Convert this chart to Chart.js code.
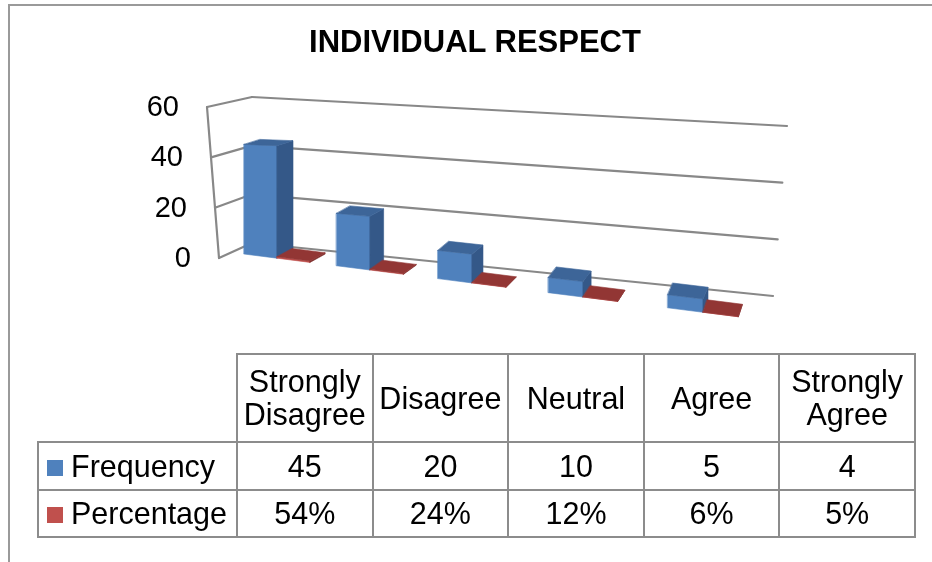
<!DOCTYPE html>
<html>
<head>
<meta charset="utf-8">
<script src="https://cdn.jsdelivr.net/npm/chart.js@4.4.1/dist/chart.umd.min.js"></script>
<style>
  html, body { margin: 0; padding: 0; background: #fff; }
  body { width: 932px; height: 562px; position: relative; overflow: hidden;
         font-family: "Liberation Sans", Arial, sans-serif; color: #000; }
  #frame { position: absolute; left: 8px; top: 4px; width: 1000px; height: 700px;
           border-top: 2px solid #9a9a9a; border-left: 2px solid #9a9a9a; }
  #title { position: absolute; left: 0; top: 23px; width: 950px; text-align: center;
           font-weight: bold; font-size: 31px; line-height: 37px; }
  canvas { position: absolute; left: 0; top: 0; }
  #tbl { position: absolute; left: 37px; top: 353px; border-collapse: collapse;
         table-layout: fixed; font-size: 30.5px; }
  #tbl td { border: 2px solid #8c8c8c; padding: 0; text-align: center; line-height: 33px; }
  #tbl td.blank { border-top: none; border-left: none; }
  #tbl td.key { text-align: left; padding-left: 8px; white-space: nowrap; }
  .swatch { display: inline-block; width: 16px; height: 16px; margin-right: 8px;
            vertical-align: 1px; }
</style>
</head>
<body>
<div id="frame"></div>
<canvas id="c" width="932" height="562"></canvas>
<div id="title">INDIVIDUAL RESPECT</div>
<table id="tbl"></table>
<script>
// Survey responses for "individual respect"
const categories = ['Strongly Disagree', 'Disagree', 'Neutral', 'Agree', 'Strongly Agree'];
const frequency = [45, 20, 10, 5, 4];
const percentage = [0.54, 0.24, 0.12, 0.06, 0.05];
const seriesNames = ['Frequency', 'Percentage'];
const axisMax = 60;
const axisStep = 20;

const seriesColors = [
  { front: '#4F81BD', top: '#3D6598', side: '#345888' },
  { front: '#C0504D', top: '#923634', side: '#7E2E2C' }
];

// Perspective view of the plot: floor / walls and boxes are projected from
// the library's own scale pixels.
const view = {
  // horizontal placement of category centres (t = 0..1 across the category scale)
  xmap: t => 233.9 + 420 * t + 112.5 * t * t,
  widthGain: t => 1 + 0.0875 * (t - 0.1),
  // front plane of the boxes
  frontBase: x => 254 + 0.127 * (x - 244),
  frontUnit: x => 2.467 + 0.00195 * (x - 260),
  // depth vector of a box corner at screen x and height fraction f
  depth: (x, f) => [16 - (x - 260) * (11 / 425), -8 - (x - 260) * (4 / 425) + 4 * f],
  // walls, as a function of the value fraction f = 0..1
  sideFront: f => [219 - 12 * f, 258 - 151 * f],
  backLeft: f => [252, 243 - 146 * f],
  backRight: f => [773 + 14 * f, 296 - 170 * f]
};

const depthView = {
  id: 'depthView',
  beforeDatasetsDraw(chart) {
    const ctx = chart.ctx;
    const xs = chart.scales.x, ys = chart.scales.y, area = chart.chartArea;
    const pxPerUnit = (ys.bottom - ys.top) / (ys.max - ys.min);
    const frac = v => (ys.bottom - ys.getPixelForValue(v)) / (ys.bottom - ys.top);

    let ticks = ys.ticks && ys.ticks.length ? ys.ticks.map(tk => tk.value) : [];
    if (!ticks.length) for (let v = ys.min; v <= ys.max; v += axisStep) ticks.push(v);

    ctx.save();
    // walls and gridlines
    ctx.strokeStyle = '#888888';
    ctx.lineWidth = 2.2;
    ctx.lineCap = 'round';
    const line = (a, b) => { ctx.beginPath(); ctx.moveTo(a[0], a[1]); ctx.lineTo(b[0], b[1]); ctx.stroke(); };
    line(view.sideFront(0), view.sideFront(1));
    ticks.forEach(v => {
      const f = frac(v);
      line(view.sideFront(f), view.backLeft(f));
      line(view.backLeft(f), view.backRight(f));
    });

    // value labels along the side wall
    ctx.fillStyle = '#000';
    ctx.font = '29px "Liberation Sans", Arial, sans-serif';
    ctx.textAlign = 'right';
    ctx.textBaseline = 'middle';
    ticks.forEach(v => {
      const p = view.sideFront(frac(v));
      ctx.fillText(String(v), p[0] - 28, p[1] + 1);
    });

    // boxes, left to right, each cluster back series first
    const poly = (pts, color) => {
      ctx.beginPath();
      ctx.moveTo(pts[0][0], pts[0][1]);
      for (let k = 1; k < pts.length; k++) ctx.lineTo(pts[k][0], pts[k][1]);
      ctx.closePath();
      ctx.fillStyle = color; ctx.fill();
      ctx.strokeStyle = color; ctx.lineWidth = 0.6; ctx.stroke();
    };
    const nCat = chart.data.labels.length;
    for (let i = 0; i < nCat; i++) {
      chart.data.datasets.forEach((ds, di) => {
        const el = chart.getDatasetMeta(di).data[i];
        const col = seriesColors[di];
        const uc = xs.getPixelForValue(i);
        const t = (uc - area.left) / area.width;
        const kw = view.widthGain(t);
        const cx = view.xmap(t) + (el.x - uc) * kw;
        const hw = el.width / 2 * kw;
        const xl = cx - hw, xr = cx + hw;
        const hLib = el.base - el.y;
        const fTop = hLib / (ys.bottom - ys.top);
        const h = x => hLib * view.frontUnit(x) / pxPerUnit;
        const bl = [xl, view.frontBase(xl)], br = [xr, view.frontBase(xr)];
        const tl = [xl, bl[1] - h(xl)], tr = [xr, br[1] - h(xr)];
        const add = (p, f) => { const d = view.depth(cx, f); return [p[0] + d[0], p[1] + d[1]]; };
        poly([bl, br, tr, tl], col.front);
        poly([br, add(br, 0), add(tr, fTop), tr], col.side);
        poly([tl, tr, add(tr, fTop), add(tl, fTop)], col.top);
      });
    }
    ctx.restore();
    return false;
  }
};

new Chart(document.getElementById('c'), {
  type: 'bar',
  data: {
    labels: categories,
    datasets: [
      { label: seriesNames[0], data: frequency, backgroundColor: seriesColors[0].front },
      { label: seriesNames[1], data: percentage, backgroundColor: seriesColors[1].front }
    ]
  },
  options: {
    responsive: false,
    animation: false,
    devicePixelRatio: 1,
    layout: { padding: { left: 234, right: 166, top: 106, bottom: 308 } },
    datasets: { bar: { categoryPercentage: 0.62, barPercentage: 1 } },
    plugins: { legend: { display: false }, title: { display: false }, tooltip: { enabled: false } },
    scales: {
      x: { display: false, offset: true },
      y: { display: false, min: 0, max: axisMax, ticks: { stepSize: axisStep } }
    }
  },
  plugins: [depthView]
});

// data table under the plot
(function buildTable() {
  const tbl = document.getElementById('tbl');
  const cg = document.createElement('colgroup');
  [199].concat(categories.map(() => 135.6)).forEach(w => {
    const c = document.createElement('col'); c.style.width = w + 'px'; cg.appendChild(c);
  });
  tbl.appendChild(cg);

  const head = document.createElement('tr');
  head.style.height = '88px';
  const blank = document.createElement('td'); blank.className = 'blank'; head.appendChild(blank);
  categories.forEach(name => {
    const td = document.createElement('td'); td.textContent = name; head.appendChild(td);
  });
  tbl.appendChild(head);

  const rows = [
    { name: seriesNames[0], color: seriesColors[0].front, cells: frequency.map(v => String(v)), h: 48 },
    { name: seriesNames[1], color: seriesColors[1].front, cells: percentage.map(v => Math.round(v * 100) + '%'), h: 47 }
  ];
  rows.forEach(r => {
    const tr = document.createElement('tr');
    tr.style.height = r.h + 'px';
    const key = document.createElement('td'); key.className = 'key';
    const sw = document.createElement('span'); sw.className = 'swatch'; sw.style.background = r.color;
    key.appendChild(sw); key.appendChild(document.createTextNode(r.name));
    tr.appendChild(key);
    r.cells.forEach(txt => {
      const td = document.createElement('td'); td.textContent = txt; tr.appendChild(td);
    });
    tbl.appendChild(tr);
  });
})();
</script>
</body>
</html>
